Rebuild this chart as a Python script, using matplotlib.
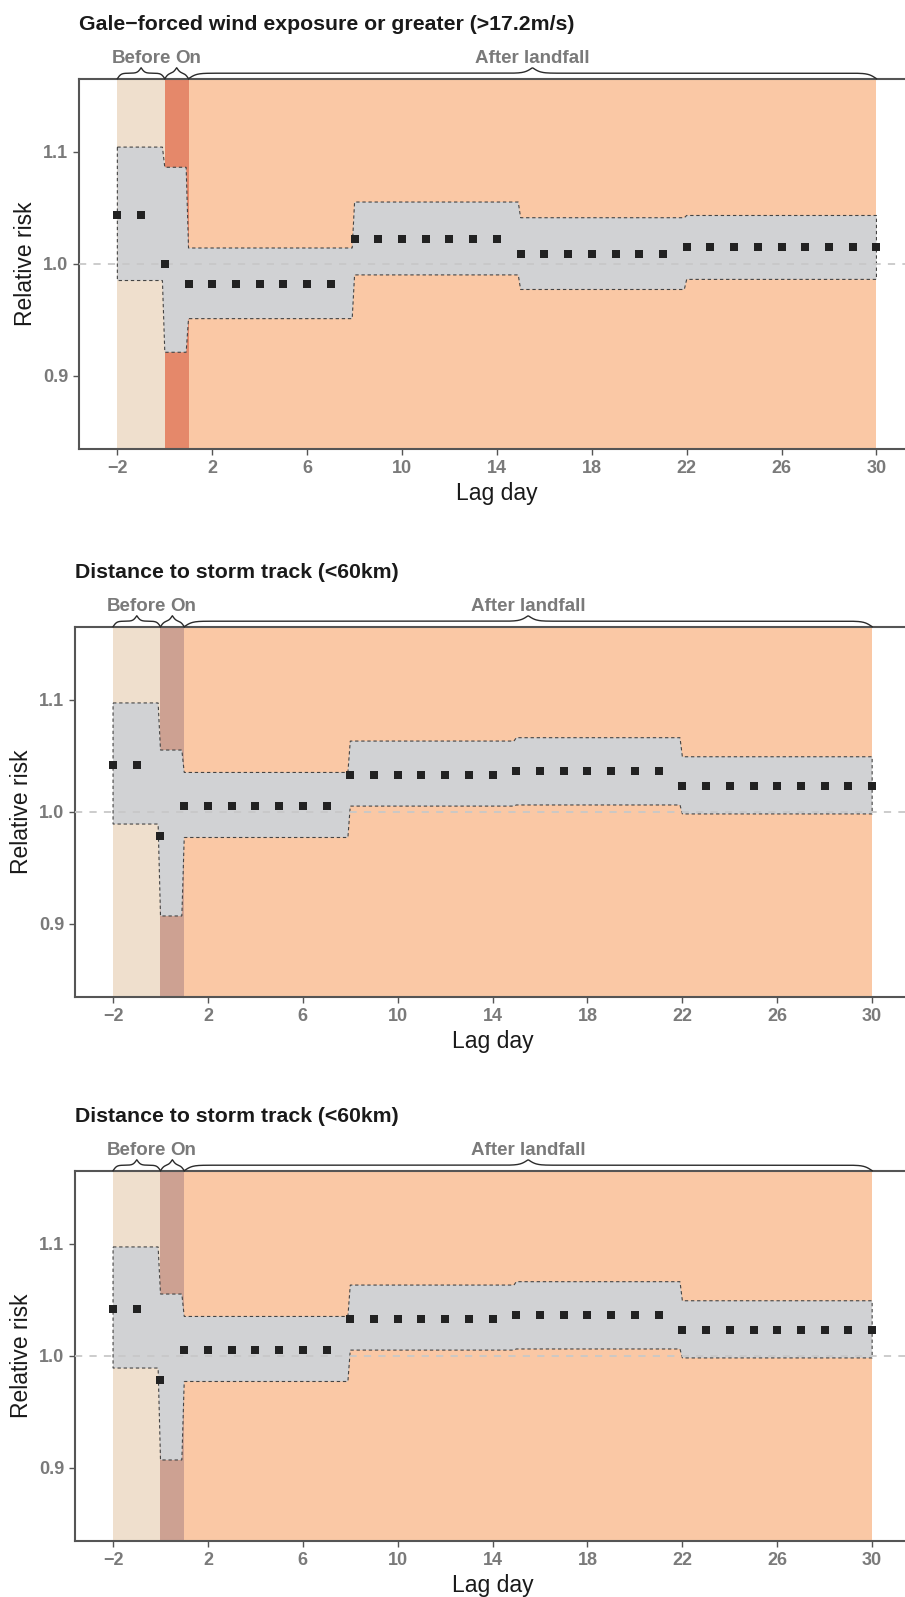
import numpy as np
import matplotlib
matplotlib.use('Agg')
import matplotlib.pyplot as plt
from matplotlib.transforms import blended_transform_factory

plt.rcParams['font.family'] = ['Liberation Sans', 'DejaVu Sans']

W, H = 905, 1597

DAYS = list(range(-2, 31))

# panel 1: gale-forced wind
RR_WIND = [1.043, 1.043, 1.000,
           0.982, 0.982, 0.982, 0.982, 0.982, 0.982, 0.982,
           1.022, 1.022, 1.022, 1.022, 1.022, 1.022, 1.022,
           1.009, 1.009, 1.009, 1.009, 1.009, 1.009, 1.009,
           1.015, 1.015, 1.015, 1.015, 1.015, 1.015, 1.015, 1.015, 1.015]
SEG_START = [-2, 0, 1, 8, 15, 22]
SEG_END = [-1, 0, 7, 14, 21, 30]
LO_WIND = [0.985, 0.921, 0.951, 0.990, 0.977, 0.986]
HI_WIND = [1.104, 1.086, 1.014, 1.055, 1.041, 1.043]

# panels 2 and 3: distance to storm track
RR_TRACK = [1.042, 1.042, 0.978,
            1.005, 1.005, 1.005, 1.005, 1.005, 1.005, 1.005,
            1.033, 1.033, 1.033, 1.033, 1.033, 1.033, 1.033,
            1.036, 1.036, 1.036, 1.036, 1.036, 1.036, 1.036,
            1.023, 1.023, 1.023, 1.023, 1.023, 1.023, 1.023, 1.023, 1.023]
LO_TRACK = [0.989, 0.907, 0.977, 1.005, 1.006, 0.998]
HI_TRACK = [1.097, 1.055, 1.035, 1.063, 1.066, 1.049]

TITLES = ['Gale\u2212forced wind exposure or greater (>17.2m/s)',
          'Distance to storm track (<60km)',
          'Distance to storm track (<60km)']

PERIODS = ['Before', 'On', 'After landfall']
PERIOD_START = [-2, 0, 1]
PERIOD_END = [0, 1, 30]
LABEL_X = [-1, 0.97, 15.5]

XTICKS = [-2, 2, 6, 10, 14, 18, 22, 26, 30]
YTICKS = [0.9, 1.0, 1.1]

C_BEFORE = '#EFDFCD'
C_AFTER = '#FAC8A5'
C_ON = ['#E5886A', '#CDA192', '#CDA192']
C_BAND = '#D1D2D4'
SPINE = '#555555'
TICKLAB = '#7A7A7A'

# axes boxes in pixels: left, top
BOXES = [(79.4, 78.7), (75.1, 626.7), (75.1, 1170.7)]
AX_W, AX_H = 835, 370
XLIM = (-3.6, 31.6)
YLIM = (0.835, 1.165)
STEP_GAP = 0.1


def brace(ax, x0, x1, h_px=11):
    ppu = ax.bbox.width / (XLIM[1] - XLIM[0])
    beta_px = 0.25 if (x1 - x0) * ppu > 100 else 0.55
    b = beta_px * ppu
    xm = (x0 + x1) / 2
    x = np.linspace(x0, x1, 800)
    y = np.where(x <= xm,
                 1 / (1 + np.exp(-b * (x - x0))) + 1 / (1 + np.exp(-b * (x - xm))),
                 1 / (1 + np.exp(-b * (x1 - x))) + 1 / (1 + np.exp(-b * (xm - x))))
    y = y - 0.5
    tr = blended_transform_factory(ax.transData, ax.transAxes)
    ax.plot(x, 1 + y * h_px / ax.bbox.height, transform=tr, color='#2b2b2b',
            lw=1.0, clip_on=False, zorder=10)


def band(starts, ends, lo, hi):
    xs, ylo, yhi = [], [], []
    for i in range(len(starts)):
        end = ends[i] + (1 - STEP_GAP) if i < len(starts) - 1 else ends[i]
        xs += [starts[i], end]
        ylo += [lo[i], lo[i]]
        yhi += [hi[i], hi[i]]
    px = xs + xs[::-1]
    py = yhi + ylo[::-1]
    return px, py


fig = plt.figure(figsize=(W / 100, H / 100), dpi=100)

data = [(RR_WIND, LO_WIND, HI_WIND), (RR_TRACK, LO_TRACK, HI_TRACK),
        (RR_TRACK, LO_TRACK, HI_TRACK)]

for k in range(3):
    left, top = BOXES[k]
    ax = fig.add_axes([left / W, 1 - (top + AX_H) / H, AX_W / W, AX_H / H])
    rr, lo, hi = data[k]
    ax.set_xlim(*XLIM)
    ax.set_ylim(*YLIM)

    ax.axvspan(PERIOD_START[0], PERIOD_END[0], color=C_BEFORE, lw=0, zorder=0)
    ax.axvspan(PERIOD_START[1], PERIOD_END[1], color=C_ON[k], lw=0, zorder=0)
    ax.axvspan(PERIOD_START[2], PERIOD_END[2], color=C_AFTER, lw=0, zorder=0)

    px, py = band(SEG_START, SEG_END, lo, hi)
    ax.fill(px, py, facecolor=C_BAND, edgecolor='#444444', lw=0.8,
            linestyle=(0, (3, 2.5)), zorder=2)
    ax.axhline(1.0, color='#C8C8C8', lw=1.3, linestyle=(0, (4, 4)), zorder=3)
    ax.plot(DAYS, rr, 's', color='#222222', ms=6.3, mew=0, zorder=4)

    ax.set_xticks(XTICKS)
    ax.set_yticks(YTICKS)
    ax.set_yticklabels(['%.1f' % v for v in YTICKS])
    ax.tick_params(length=4.3, width=1.0, color=SPINE, pad=3.6,
                   labelsize=13, labelcolor=TICKLAB)
    for lab in ax.get_xticklabels() + ax.get_yticklabels():
        lab.set_fontweight('bold')
    for s in ax.spines.values():
        s.set_color(SPINE)
        s.set_linewidth(1.5)

    for i in range(3):
        brace(ax, PERIOD_START[i], PERIOD_END[i])
        ax.annotate(PERIODS[i], xy=(LABEL_X[i], 1), xycoords=('data', 'axes fraction'),
                    xytext=(0, 11.2), textcoords='offset points', ha='center',
                    va='baseline', fontsize=13.5, fontweight='bold', color=TICKLAB)

    fig.text(left / W, 1 - (top - 49) / H, TITLES[k], ha='left', va='baseline',
             fontsize=15.3, fontweight='bold', color='#1a1a1a')
    fig.text((left + AX_W / 2) / W, 1 - (top + AX_H + 51) / H, 'Lag day',
             ha='center', va='baseline', fontsize=16.5, color='#1a1a1a')
    fig.text((left - 54) / W, 1 - (top + AX_H / 2) / H, 'Relative risk',
             ha='center', va='center', rotation=90, fontsize=16.5, color='#1a1a1a')

fig.savefig('out.png', dpi=100)
